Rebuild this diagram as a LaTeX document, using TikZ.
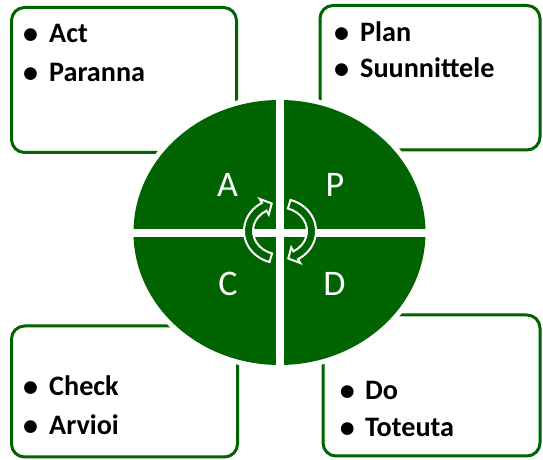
\documentclass[tikz,border=0pt]{standalone}
\usepackage{fontspec}
\setmainfont{Carlito}
\definecolor{pdcagreen}{RGB}{0,100,0}
\begin{document}
\begin{tikzpicture}[x=1pt,y=1pt,
  panel/.style={draw=pdcagreen, line width=3pt, rounded corners=13pt, fill=white,
    inner sep=0pt, outer sep=0pt, anchor=south west},
  item/.style={anchor=base west, inner sep=0pt, font=\fontsize{28.2}{30}\selectfont\bfseries},
  dot/.style={anchor=base, inner sep=0pt, font=\fontsize{30}{30}\selectfont\bfseries},
  phase/.style={text=white, inner sep=0pt, font=\fontsize{36}{40}\selectfont},
  cyclearrow/.style={fill=pdcagreen, draw=white, line width=2pt, line join=miter}]
\useasboundingbox (0,0) rectangle (543,460);

% the four text panels
\node[panel, minimum width=225, minimum height=145] (actbox) at (11.5,307.5) {};
\node[panel, minimum width=220, minimum height=144.5] (planbox) at (320,310) {};
\node[panel, minimum width=226, minimum height=131] (checkbox) at (11.5,3) {};
\node[panel, minimum width=217, minimum height=141] (dobox) at (323,4) {};

% panel texts
\node[dot] (actdot) at (30.7,416.5) {•};
\node[item] (act) at (49,417) {Act};
\node[dot] (paranadot) at (30.7,377.5) {•};
\node[item] (paranna) at (49,378) {Paranna};

\node[dot] (plandot) at (341.5,417.5) {•};
\node[item] (plan) at (360,418) {Plan};
\node[dot] (suundot) at (341.5,381.5) {•};
\node[item] (suunnittele) at (360,382) {Suunnittele};

\node[dot] (checkdot) at (30.7,63.5) {•};
\node[item] (check) at (49,64) {Check};
\node[dot] (arvioidot) at (30.7,24.5) {•};
\node[item] (arvioi) at (49,25) {Arvioi};

\node[dot] (dodot) at (347.3,59.5) {•};
\node[item] (do) at (365,60) {Do};
\node[dot] (toteutadot) at (347.3,22.5) {•};
\node[item] (toteuta) at (365,23) {Toteuta};

% the cycle wheel with a white halo
\coordinate (wheel) at (279.5,227.5);
\fill[white] (wheel) ellipse [x radius=151, y radius=137.5];
\fill[pdcagreen] (wheel) ellipse [x radius=146, y radius=132.5];
% white gaps between the quadrants
\fill[white] (276,90) rectangle (284,365);
\fill[white] (130,223) rectangle (430,231);

% quadrant letters
\node[phase] (A) at (227.5,275) {A};
\node[phase] (P) at (335,275) {P};
\node[phase] (C) at (228,176.5) {C};
\node[phase] (D) at (334.5,176.5) {D};

% two hollow curved arrows in the middle
\coordinate (hub) at (280,229);
\begin{scope}[shift={(hub)}]
  \draw[cyclearrow] (253:36 and 32.5)
    arc[start angle=253, end angle=120, x radius=36, y radius=32.5]
    -- (120:40.5 and 37) -- (105:32 and 28.5) -- (120:22.5 and 19)
    -- (120:27 and 23.5)
    arc[start angle=120, end angle=253, x radius=27, y radius=23.5] -- cycle;
\end{scope}
\begin{scope}[shift={(hub)}, rotate=180]
  \draw[cyclearrow] (253:36 and 32.5)
    arc[start angle=253, end angle=120, x radius=36, y radius=32.5]
    -- (120:40.5 and 37) -- (105:32 and 28.5) -- (120:22.5 and 19)
    -- (120:27 and 23.5)
    arc[start angle=120, end angle=253, x radius=27, y radius=23.5] -- cycle;
\end{scope}
\end{tikzpicture}
\end{document}
